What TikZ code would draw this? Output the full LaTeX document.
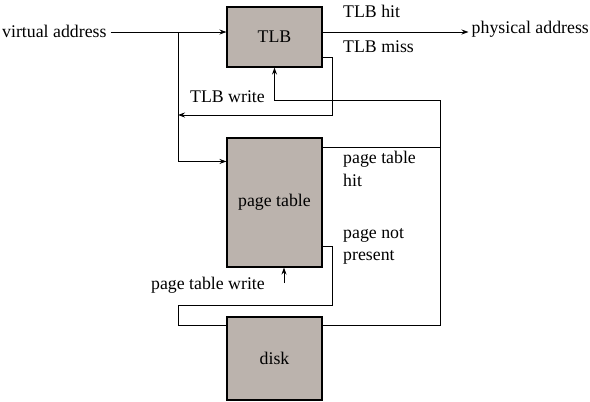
\documentclass[tikz,border=0pt]{standalone}
\usepackage{fontspec}
\setmainfont{Liberation Serif}
\usepackage{xcolor}
\usetikzlibrary{arrows.meta, positioning, calc}

\definecolor{boxgray}{RGB}{187,179,173}

\begin{document}
\begin{tikzpicture}[
                x=1pt, y=-1pt,
                font=\fontsize{17.8}{22.5}\selectfont,
                unit/.style={draw, fill=boxgray, line width=1.1pt, minimum width=95pt, inner sep=0pt},
                lbl/.style={inner sep=0pt, align=left},
                wire/.style={line width=0.9pt},
                feed/.style={wire, -{Stealth[length=7pt, width=5pt]}}
            ]
                \useasboundingbox (0,0) rectangle (590,402);

                % Nodes
                \node[unit, minimum height=60pt] (tlb) at (274.5,37) {TLB};
                \node[unit, minimum height=129pt] (pt) at (274.5,202.5) {page table};
                \node[unit, minimum height=83pt] (disk) at (274.5,358.5) {disk};

                \node[lbl, anchor=west] (va) at (2,31) {virtual address};
                \node[lbl, anchor=west] (pa) at (471.5,29) {physical address};
                \node[lbl, anchor=west] (hit) at (343,11) {TLB hit};
                \node[lbl, anchor=west] (miss) at (343,47) {TLB miss};
                \node[lbl, anchor=east] (tlbw) at (265,97) {TLB write};
                \node[lbl, anchor=north west] (pthit) at (343,151) {page table\\hit};
                \node[lbl, anchor=north west] (ptnp) at (343,228) {page not\\present};
                \node[lbl, anchor=east] (ptw) at (265,285) {page table write};

                % Bends
                \coordinate (split) at (178,32);
                \coordinate (back) at (178,115);
                \coordinate (rt) at (440,100);
                \coordinate (lo) at (178,305);
                \coordinate (ptwin) at (284,283);

                % Edges
                \draw[feed] ([xshift=4pt]va.east |- split) -- (split -| tlb.west);
                \draw[feed] (split) |- ([yshift=-24pt]pt.north west);
                \draw[feed] (split -| tlb.east) -- ([xshift=-3pt]split -| pa.west);
                \draw[feed] ([yshift=10pt]tlb.south east) -- ++(10,0) |- (back);
                \draw[feed] ([yshift=-9pt]disk.north east) -| (rt) -| (tlb.south);
                \draw[wire] ([yshift=-10pt]pt.north east) -- ([yshift=-10pt]pt.north east -| rt);
                \draw[wire] ([yshift=21pt]pt.south east) -- ++(10,0) |- (lo) |- ([yshift=-9pt]disk.north west);
                \draw[feed] (ptwin) -- (ptwin |- pt.south);
            \end{tikzpicture}
\end{document}
